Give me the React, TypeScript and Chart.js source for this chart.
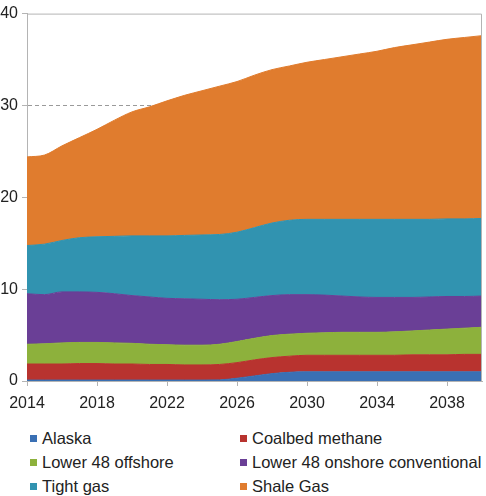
import React, { useEffect, useRef } from "react";
import { Chart, registerables } from "chart.js";

Chart.register(...registerables);

const years = [
  2014, 2015, 2016, 2017, 2018, 2019, 2020, 2021, 2022, 2023, 2024, 2025, 2026, 2027,
  2028, 2029, 2030, 2031, 2032, 2033, 2034, 2035, 2036, 2037, 2038, 2039, 2040,
];

const xTickLabels = [2014, 2018, 2022, 2026, 2030, 2034, 2038];

const alaska = [
  0.1, 0.1, 0.1, 0.1, 0.1, 0.1, 0.1, 0.1, 0.1, 0.1, 0.1, 0.12, 0.3, 0.55,
  0.8, 0.95, 1.0, 1.0, 1.0, 1.0, 1.0, 1.0, 1.0, 1.0, 1.0, 1.0, 1.0,
];
const coalbedMethane = [
  1.75, 1.75, 1.75, 1.8, 1.8, 1.75, 1.75, 1.7, 1.7, 1.65, 1.65, 1.68, 1.7, 1.75,
  1.75, 1.75, 1.8, 1.8, 1.8, 1.8, 1.8, 1.8, 1.85, 1.85, 1.85, 1.9, 1.9,
];
const lower48Offshore = [
  2.15, 2.2, 2.3, 2.3, 2.3, 2.3, 2.25, 2.2, 2.15, 2.15, 2.15, 2.2, 2.3, 2.35,
  2.4, 2.4, 2.4, 2.45, 2.5, 2.5, 2.5, 2.55, 2.6, 2.7, 2.8, 2.85, 2.95,
];
const lower48Onshore = [
  5.5, 5.35, 5.55, 5.5, 5.45, 5.35, 5.2, 5.15, 5.05, 5.05, 5.0, 4.85, 4.6, 4.45,
  4.35, 4.3, 4.2, 4.1, 3.95, 3.85, 3.8, 3.75, 3.65, 3.6, 3.55, 3.45, 3.4,
];
const tightGas = [
  5.25, 5.5, 5.6, 5.9, 6.05, 6.25, 6.5, 6.65, 6.8, 6.9, 7.0, 7.1, 7.3, 7.6,
  7.9, 8.1, 8.2, 8.25, 8.35, 8.45, 8.5, 8.5, 8.5, 8.45, 8.45, 8.45, 8.45,
];
const shaleGas = [
  9.65, 9.7, 10.3, 10.9, 11.7, 12.65, 13.5, 14.05, 14.7, 15.25, 15.7, 16.15, 16.4, 16.6,
  16.7, 16.8, 17.1, 17.4, 17.7, 18.0, 18.3, 18.7, 19.0, 19.3, 19.55, 19.75, 19.9,
];

const seriesNames = [
  "Alaska",
  "Coalbed methane",
  "Lower 48 offshore",
  "Lower 48 onshore conventional",
  "Tight gas",
  "Shale Gas",
];
const seriesColors = ["#3a70b4", "#b8332f", "#8db13c", "#6a3f96", "#3193b0", "#e07c2e"];
const seriesData = [alaska, coalbedMethane, lower48Offshore, lower48Onshore, tightGas, shaleGas];

const FONT = "'Liberation Sans', Arial, Helvetica, sans-serif";

const framePlugin = {
  id: "frame",
  afterDatasetsDraw(chart: any) {
    const { ctx, chartArea } = chart;
    const { left, right, top, bottom } = chartArea;
    ctx.save();
    ctx.strokeStyle = "#b4b4b4";
    ctx.lineWidth = 1;
    ctx.beginPath();
    ctx.moveTo(left, top + 0.5);
    ctx.lineTo(right - 0.5, top + 0.5);
    ctx.lineTo(right - 0.5, bottom);
    ctx.stroke();
    ctx.restore();
  },
};

export default function App() {
  const canvasRef = useRef<HTMLCanvasElement | null>(null);

  useEffect(() => {
    const canvas = canvasRef.current;
    if (!canvas) return;
    const chart = new Chart(canvas, {
      type: "line",
      data: {
        labels: years,
        datasets: seriesData.map((d, i) => ({
          label: seriesNames[i],
          data: d,
          backgroundColor: seriesColors[i],
          borderColor: seriesColors[i],
          borderWidth: 1,
          pointRadius: 0,
          cubicInterpolationMode: "monotone" as const,
          fill: i === 0 ? "origin" : "-1",
        })),
      },
      options: {
        animation: false,
        responsive: false,
        devicePixelRatio: 1,
        layout: { padding: { top: 10, right: 4, left: 0, bottom: 0 } },
        plugins: {
          legend: { display: false },
          tooltip: { enabled: false },
        },
        scales: {
          x: {
            type: "linear",
            min: 2014,
            max: 2040,
            afterBuildTicks: (scale: any) => {
              scale.ticks = xTickLabels.map((v) => ({ value: v }));
            },
            afterFit: (scale: any) => {
              scale.height = 39;
            },
            grid: {
              drawOnChartArea: false,
              drawTicks: true,
              tickLength: 5,
              tickColor: "#b4b4b4",
            },
            border: { color: "#b4b4b4" },
            ticks: {
              font: { family: FONT, size: 16 },
              color: "#222",
              padding: 8,
              maxRotation: 0,
              autoSkip: false,
              callback: (v: any) => String(v),
            },
          },
          y: {
            stacked: true,
            min: 0,
            max: 40,
            afterFit: (scale: any) => {
              scale.width = 27;
            },
            grid: {
              color: (ctx: any) =>
                ctx.tick && (ctx.tick.value === 0 || ctx.tick.value === 40)
                  ? "rgba(0,0,0,0)"
                  : "#9a9a9a",
              tickColor: "#b4b4b4",
              tickLength: 5,
              drawTicks: true,
            },
            border: { color: "#b4b4b4", dash: [4, 3] },
            ticks: {
              stepSize: 10,
              font: { family: FONT, size: 16 },
              color: "#222",
              padding: 4,
            },
          },
        },
      },
      plugins: [framePlugin],
    });
    return () => chart.destroy();
  }, []);

  const legendPositions = [
    { left: 30, top: 426 },
    { left: 240, top: 426 },
    { left: 30, top: 450 },
    { left: 240, top: 450 },
    { left: 30, top: 474 },
    { left: 240, top: 474 },
  ];

  return (
    <div
      style={{
        position: "absolute",
        left: 0,
        top: 0,
        width: 486,
        height: 496,
        background: "#fff",
        overflow: "hidden",
      }}
    >
      <canvas ref={canvasRef} width={486} height={420} style={{ display: "block" }} />
      {seriesNames.map((name, i) => (
        <div
          key={name}
          style={{
            position: "absolute",
            left: legendPositions[i].left,
            top: legendPositions[i].top,
            height: 24,
            lineHeight: "24px",
            display: "flex",
            alignItems: "center",
            fontFamily: FONT,
            fontSize: 16.5,
            color: "#222",
            whiteSpace: "nowrap",
          }}
        >
          <span
            style={{
              display: "inline-block",
              width: 7,
              height: 7,
              background: seriesColors[i],
              marginRight: 5,
            }}
          />
          {name}
        </div>
      ))}
    </div>
  );
}
